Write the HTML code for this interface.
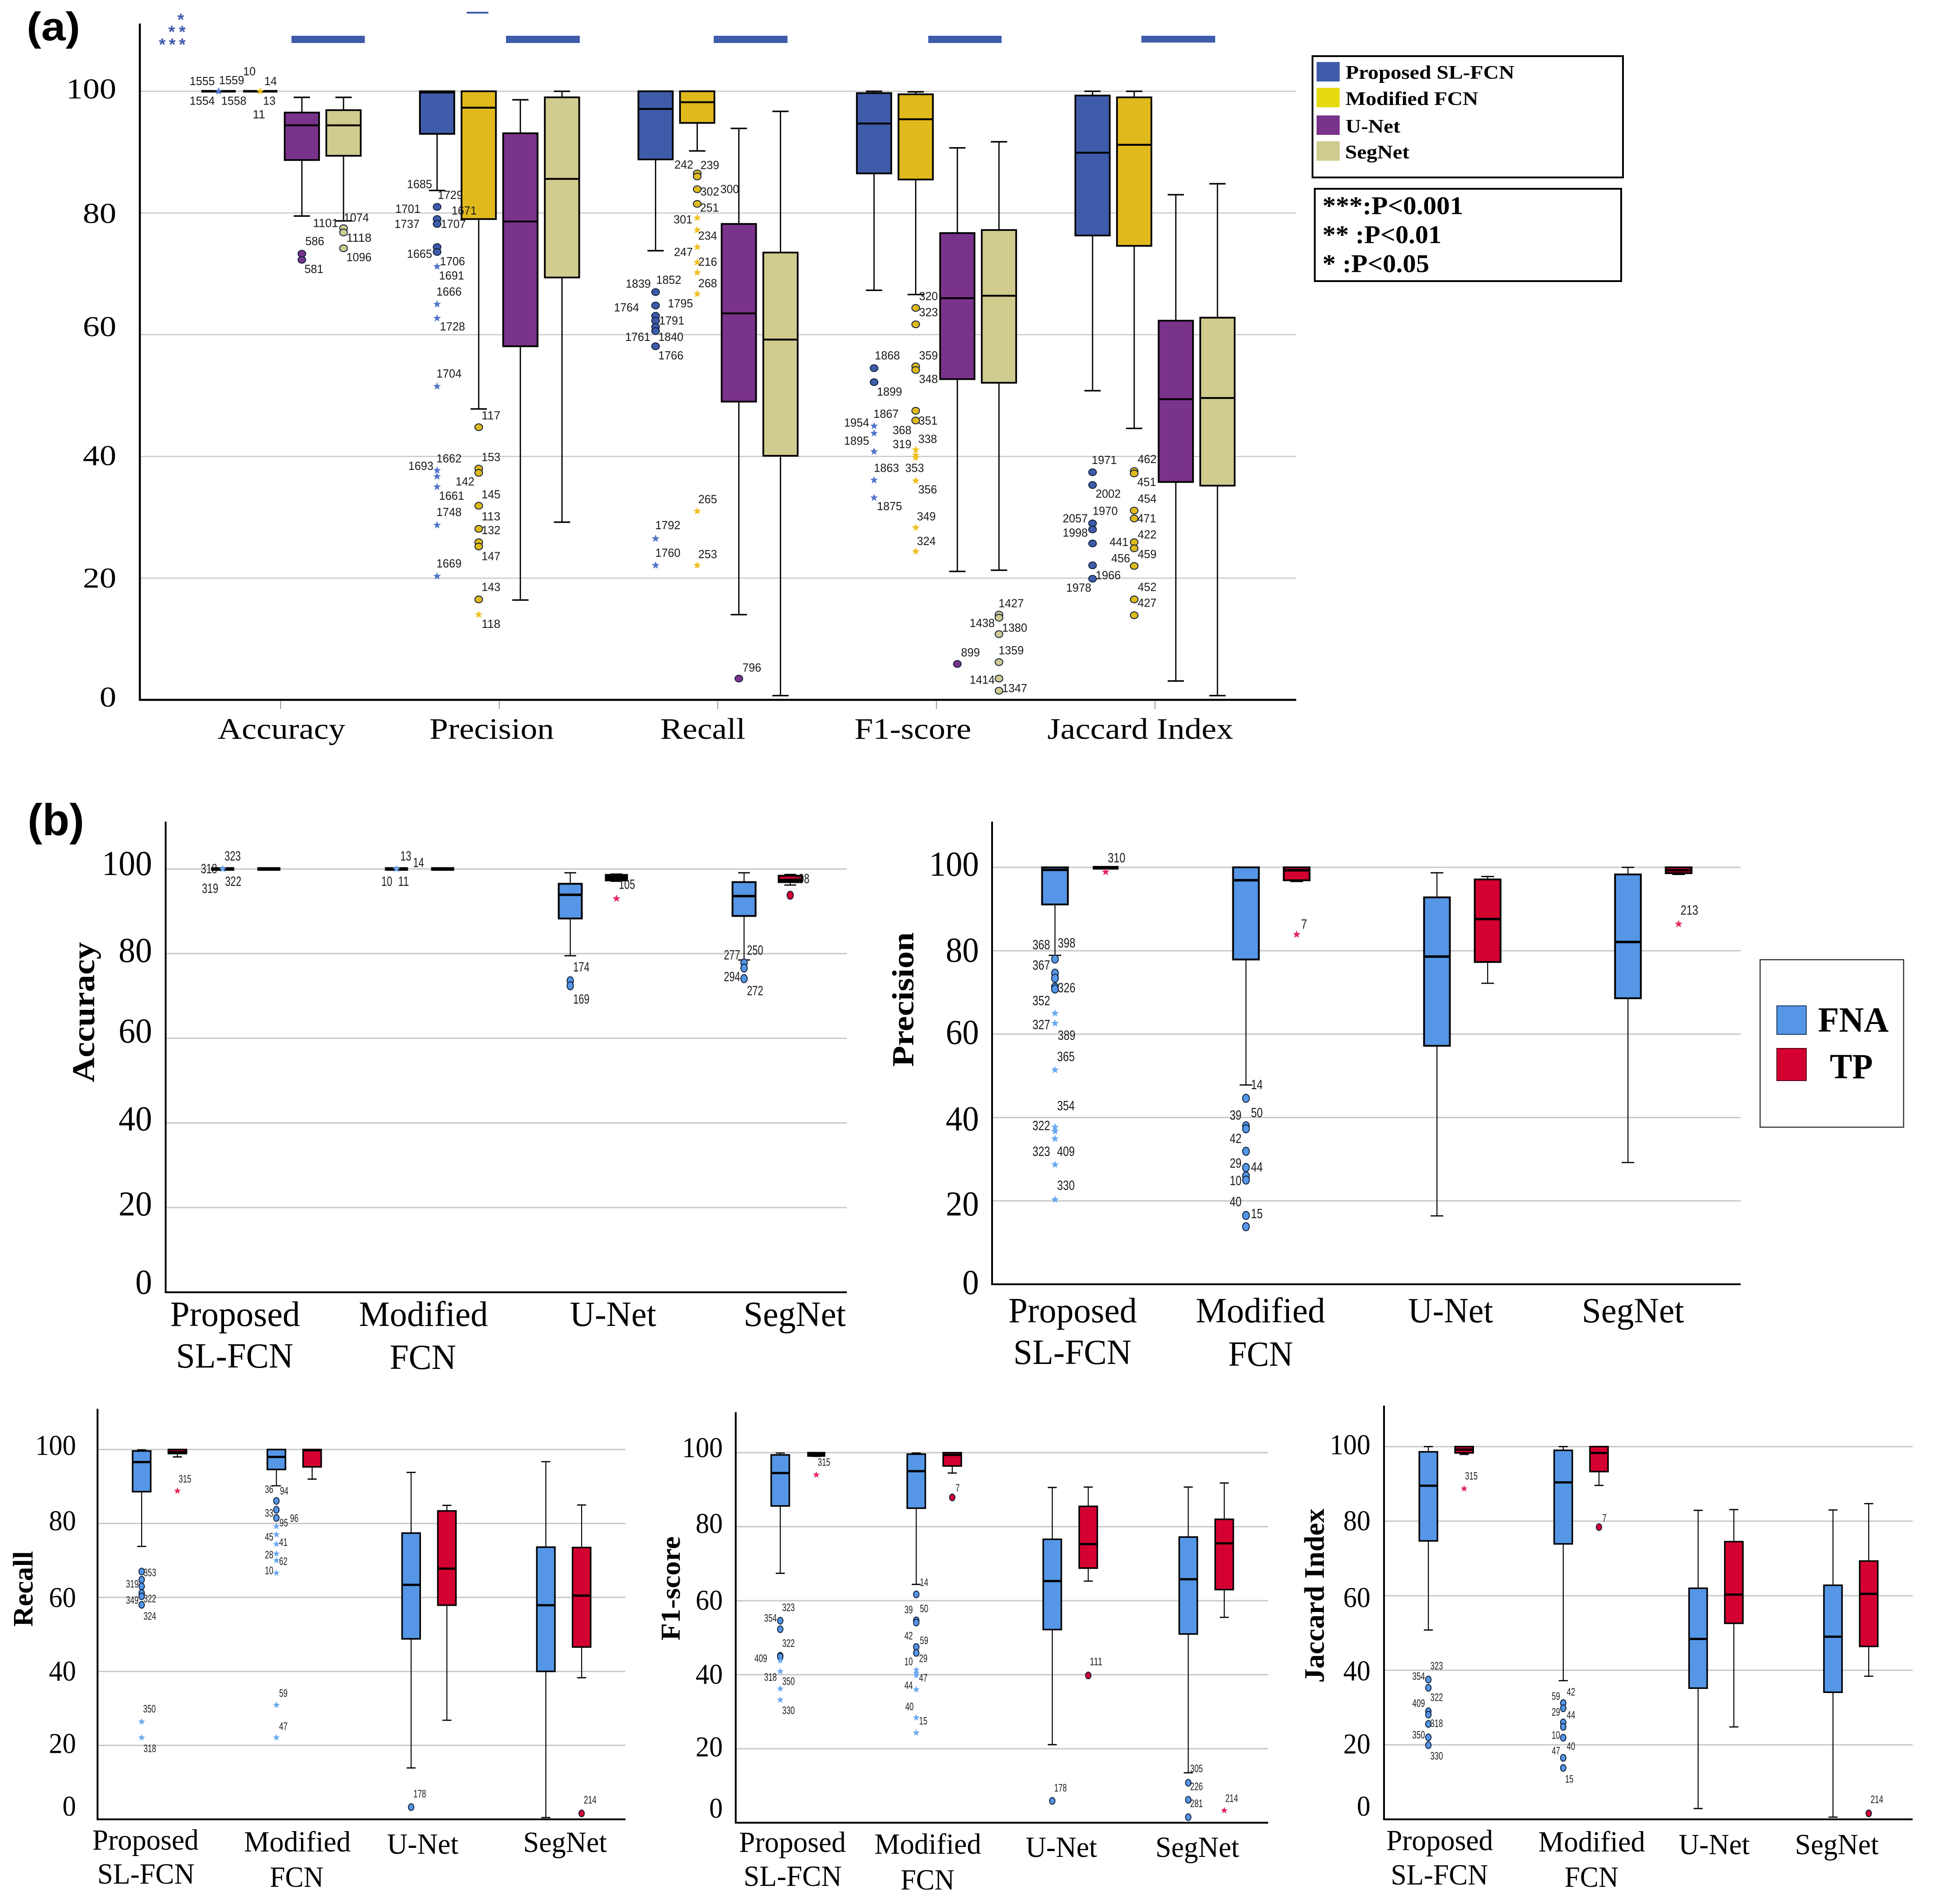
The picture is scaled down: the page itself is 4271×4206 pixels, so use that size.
<!DOCTYPE html>
<html lang="en">
<head>
<meta charset="utf-8">
<title>Segmentation metrics box plots</title>
<style>
html,body{margin:0;padding:0;background:#fff;}
svg{display:block;}
text{white-space:pre;}
</style>
</head>
<body>
<svg id="figure" xmlns="http://www.w3.org/2000/svg" width="4271" height="4206" viewBox="0 0 4271 4206">
<rect x="0" y="0" width="4271" height="4206" fill="#ffffff"/>
<g id="charts"></g>

<text x="59" y="89" font-family="Liberation Sans, sans-serif" font-weight="bold" font-size="88" textLength="118" lengthAdjust="spacingAndGlyphs">(a)</text>
<text x="61" y="1845" font-family="Liberation Sans, sans-serif" font-weight="bold" font-size="98" textLength="125" lengthAdjust="spacingAndGlyphs">(b)</text>

<g fill="#3f5cab" font-family="Liberation Sans, sans-serif" font-weight="bold" font-size="38">
<text x="392" y="56">*</text>
<text x="372" y="83" textLength="38">**</text>
<text x="351" y="111" textLength="59">***</text>
</g>

<g fill="#3f5cab">
<rect x="644" y="79" width="162" height="16"/>
<rect x="1118" y="79" width="163" height="16"/>
<rect x="1031" y="26" width="48" height="4"/>
<rect x="1577" y="79" width="163" height="16"/>
<rect x="2051" y="79" width="162" height="16"/>
<rect x="2522" y="79" width="163" height="15"/>
</g>

<g>
<rect x="2900" y="124" width="686" height="268" fill="#fff" stroke="#000" stroke-width="4"/>
<rect x="2909" y="137" width="51" height="43" fill="#3f5cab"/>
<rect x="2909" y="194" width="51" height="43" fill="#e5db0e"/>
<rect x="2909" y="255" width="51" height="43" fill="#7a338a"/>
<rect x="2909" y="312" width="51" height="43" fill="#d0cb8f"/>
<g font-family="Liberation Serif, serif" font-weight="bold" font-size="42" fill="#000">
<text x="2973" y="174" textLength="373" lengthAdjust="spacingAndGlyphs">Proposed SL-FCN</text>
<text x="2973" y="232" textLength="293" lengthAdjust="spacingAndGlyphs">Modified FCN</text>
<text x="2973" y="293" textLength="121" lengthAdjust="spacingAndGlyphs">U-Net</text>
<text x="2972" y="350" textLength="142" lengthAdjust="spacingAndGlyphs">SegNet</text>
</g>
</g>

<g>
<rect x="2905" y="417" width="677" height="204" fill="#fff" stroke="#000" stroke-width="4"/>
<g font-family="Liberation Serif, serif" font-weight="bold" font-size="56" fill="#000">
<text x="2922" y="473" textLength="311" lengthAdjust="spacingAndGlyphs">***:P&lt;0.001</text>
<text x="2922" y="537" textLength="263" lengthAdjust="spacingAndGlyphs">** :P&lt;0.01</text>
<text x="2922" y="601" textLength="236" lengthAdjust="spacingAndGlyphs">* :P&lt;0.05</text>
</g>
</g>

<g>
<rect x="3889" y="2120" width="317" height="370" fill="#fff" stroke="#333" stroke-width="2.5"/>
<rect x="3926" y="2222" width="65" height="63" fill="#5596e6" stroke="#1d3b66" stroke-width="2"/>
<rect x="3926" y="2316" width="65" height="71" fill="#d50032" stroke="#5d0018" stroke-width="2"/>
<g font-family="Liberation Serif, serif" font-weight="bold" font-size="78" fill="#000">
<text x="4017" y="2279" textLength="156" lengthAdjust="spacingAndGlyphs">FNA</text>
<text x="4043" y="2382" textLength="95" lengthAdjust="spacingAndGlyphs">TP</text>
</g>
</g>

<g font-family="Liberation Serif, serif" font-weight="bold" fill="#000" text-anchor="middle">
<text transform="translate(208,2236) rotate(-90)" font-size="70" textLength="310" lengthAdjust="spacingAndGlyphs">Accuracy</text>
<text transform="translate(2018,2208) rotate(-90)" font-size="68" textLength="297" lengthAdjust="spacingAndGlyphs">Precision</text>
<text transform="translate(72,3510) rotate(-90)" font-size="62" textLength="167" lengthAdjust="spacingAndGlyphs">Recall</text>
<text transform="translate(1502,3509) rotate(-90)" font-size="60" textLength="230" lengthAdjust="spacingAndGlyphs">F1-score</text>
<text transform="translate(2925,3525) rotate(-90)" font-size="62" textLength="385" lengthAdjust="spacingAndGlyphs">Jaccard Index</text>
</g>
</svg>

<script>
/* ---------- shared axis data ---------- */
const tickValues = [0, 20, 40, 60, 80, 100];
const metricNames = ["Accuracy", "Precision", "Recall", "F1-score", "Jaccard Index"];
const modelNames = ["Proposed SL-FCN", "Modified FCN", "U-Net", "SegNet"];
const sampleNames = ["FNA", "TP"];

/* ---------- panel (a): each row = one metric, [high, q3, median, q1, low] ---------- */
const aProposedStats = [
  [100, 100, 100, 100, 100],
  [100, 100, 99.8, 93, 83.7],
  [100, 100, 97.1, 88.8, 73.8],
  [100, 99.7, 94.7, 86.5, 67.3],
  [100, 99.3, 89.9, 76.3, 50.8]
];
const aModifiedStats = [
  [100, 100, 100, 100, 100],
  [100, 100, 97.3, 79, 47.8],
  [100, 100, 98.2, 94.8, 90.2],
  [99.9, 99.5, 95.4, 85.5, 66.6],
  [100, 99, 91.2, 74.6, 44.6]
];
const aUNetStats = [
  [99, 96.5, 94.4, 88.7, 79.5],
  [98.6, 93.1, 78.6, 58.1, 16.4],
  [93.9, 78.2, 63.5, 49, 14],
  [90.7, 76.7, 66, 52.7, 21.1],
  [83, 62.3, 49.4, 35.8, 3.1]
];
const aSegNetStats = [
  [99, 96.9, 94.4, 89.4, 78.7],
  [100, 99, 85.6, 69.4, 29.2],
  [96.7, 73.5, 59.2, 40.1, 0.7],
  [91.7, 77.2, 66.4, 52.1, 21.3],
  [84.8, 62.8, 49.6, 35.2, 0.7]
];
const aProposedCircles = [
  [],
  [81, 79, 78.2, 74.4, 73.6],
  [67, 64.8, 63.1, 62.3, 61.3, 60.6, 58.1],
  [54.5, 52.2],
  [37.4, 35.3, 29, 28, 25.7, 22.1, 19.9]
];
const aProposedStars = [
  [100],
  [71.2, 65, 62.7, 51.5, 37.7, 36.7, 35, 28.7, 20.3],
  [26.5, 22.1],
  [45, 43.8, 40.8, 36.1, 33.2],
  []
];
const aModifiedCircles = [
  [],
  [44.8, 38, 37.3, 31.9, 28.1, 25.9, 25.2, 16.5],
  [86.5, 86, 83.9, 81.5],
  [64.4, 61.7, 54.8, 54.2, 47.5, 45.9],
  [37.6, 37.2, 31.1, 29.8, 25.9, 24.9, 22, 16.5, 13.9]
];
const aModifiedStars = [
  [100],
  [14],
  [79.2, 77.2, 74.4, 71.9, 70.2, 66.7, 31, 22.1],
  [41.1, 40.2, 39.8, 36, 28.3, 24.4],
  []
];
const aUNetCircles = [[73.3, 72.3], [], [3.5], [5.9], []];
const aUNetStars = [[], [], [], [], []];
const aSegNetCircles = [[77.5, 76.8, 74.2], [], [], [14, 13.5, 10.8, 6.2, 3.5, 1.5], []];
const aSegNetStars = [[], [], [], [], []];

/* ---------- panel (b): each row = one model, [high, q3, median, q1, low] ---------- */
const bAccuracyFNA = [
  [100, 100, 100, 100, 100],
  [100, 100, 100, 100, 100],
  [99.1, 96.5, 93.9, 88.3, 79.5],
  [99.1, 96.9, 93.6, 88.9, 78.5]
];
const bAccuracyTP = [
  [100, 100, 100, 100, 100],
  [100, 100, 100, 100, 100],
  [98.8, 98.6, 97.9, 97.3, 97.1],
  [98.7, 98.4, 97.4, 96.9, 96.2]
];
const bAccuracyFNACircles = [[], [], [73.6, 72.4], [77.8, 76.6, 74.1]];
const bAccuracyFNAStars = [[100], [100], [], []];
const bAccuracyTPCircles = [[], [], [], [93.8]];
const bAccuracyTPStars = [[], [], [93], []];

const bPrecisionFNA = [
  [100, 100, 99.4, 91.1, 78.9],
  [100, 100, 96.9, 77.9, 47.8],
  [98.7, 92.8, 78.6, 57.2, 16.4],
  [100, 98.3, 82.1, 68.6, 29.2]
];
const bPrecisionTP = [
  [100, 100, 100, 99.8, 99.8],
  [100, 100, 99.3, 96.9, 96.6],
  [97.8, 97.1, 87.6, 77.3, 72.2],
  [100, 100, 99.3, 98.6, 98.3]
];
const bPrecisionFNACircles = [
  [78, 74.6, 73.4, 71.3, 70.8],
  [44.6, 38, 37.3, 31.9, 28, 26, 25, 16.5, 13.8],
  [],
  []
];
const bPrecisionFNAStars = [[65, 62.6, 51.4, 37.7, 36.7, 34.9, 28.7, 20.3], [], [], []];
const bPrecisionTPCircles = [[], [], [], []];
const bPrecisionTPStars = [[98.9], [83.9], [], [86.4]];

const bRecallFNA = [
  [99.9, 99.6, 96.6, 88.6, 73.8],
  [100, 100, 98, 94.6, 90.2],
  [93.8, 77.4, 63.4, 48.8, 13.9],
  [96.7, 73.6, 57.9, 40, 0.5]
];
const bRecallTP = [
  [100, 100, 99.3, 98.9, 98],
  [100, 100, 99.8, 95.3, 92],
  [84.9, 83.4, 67.8, 57.9, 26.8],
  [85, 73.5, 60.5, 46.6, 38.3]
];
const bRecallFNACircles = [[67, 64.8, 63, 61.2, 60.3, 58], [86.1, 83.7, 81.5], [3.3], []];
const bRecallFNAStars = [[26.4, 22.1], [79.2, 77, 74.4, 71.8, 70, 66.6, 30.9, 22.1], [], []];
const bRecallTPCircles = [[], [], [], [1.6]];
const bRecallTPStars = [[88.8], [], [], []];

const bF1FNA = [
  [99.9, 99.4, 94.5, 85.6, 67.4],
  [99.9, 99.6, 95, 85, 64.4],
  [90.6, 76.6, 65.3, 52.2, 21.1],
  [90.7, 77.2, 65.8, 51, 13.5]
];
const bF1TP = [
  [100, 100, 99.6, 99.1, 99],
  [100, 100, 99.4, 96.4, 94.5],
  [90.7, 85.5, 75.3, 68.8, 65.3],
  [91.8, 82, 75.5, 63, 55.5]
];
const bF1FNACircles = [
  [54.6, 52.3, 45.1, 44.9],
  [61.7, 54.7, 54.1, 47.5, 45.9],
  [5.9],
  [10.8, 6.2, 1.5]
];
const bF1FNAStars = [[43.8, 40.9, 36.2, 33.2], [41.3, 40.4, 39.8, 36, 28.4, 24.3], [], []];
const bF1TPCircles = [[], [87.9], [39.8], []];
const bF1TPStars = [[94], [], [], [3.3]];

const bJaccardFNA = [
  [100, 98.6, 89.5, 74.7, 50.8],
  [100, 99, 90.4, 73.9, 37.2],
  [82.9, 62, 48.4, 35.2, 2.9],
  [83, 62.8, 49, 34.1, 0.6]
];
const bJaccardTP = [
  [100, 100, 99.2, 98.3, 97.9],
  [100, 100, 98.3, 93.3, 89.6],
  [83.1, 74.5, 60.3, 52.6, 24.8],
  [84.7, 69.3, 60.5, 46.4, 38.4]
];
const bJaccardFNACircles = [
  [37.5, 35.3, 29, 28.1, 25.6, 22, 19.9],
  [31.2, 29.8, 26, 24.8, 21.9, 16.5, 13.8],
  [],
  []
];
const bJaccardFNAStars = [[], [], [], []];
const bJaccardTPCircles = [[], [78.4], [], [1.6]];
const bJaccardTPStars = [[88.7], [], [], []];

/* ---------- outlier case-number labels (printed text) ---------- */
const aIdsLeft = "1555 467 165|1559 535 163|10 576 145|14 625 165|1554 467 205|1558 540 205|13 622 205|11 598 233|1101 752 454|1074 823 443|586 727 491|1118 829 484|1096 829 524|581 725 548|1685 969 375|1729 1040 397|1701 942 425|1671 1072 429|1737 940 456|1707 1047 456|1665 969 517|1706 1045 532|1691 1043 561|1666 1037 594|1728 1045 665|1704 1037 761|117 1134 846|153 1134 931|1662 1037 934|1693 972 949|142 1074 981|1661 1043 1010|145 1134 1007|1748 1037 1043|113 1134 1052|132 1134 1080|147 1134 1133|1669 1037 1148|143 1134 1196|118 1134 1271|1839 1474 578|1764 1447 626|1761 1473 686";
const aIdsRight = "1792 79 1070|1760 79 1126|1852 81 570|1795 108 618|1791 88 653|1840 86 686|1766 86 724|242 116 335|239 176 336|302 176 390|300 222 385|251 175 423|301 114 447|234 171 480|247 115 513|216 171 533|268 171 577|265 171 1017|253 171 1129|796 273 1360|1868 586 724|359 681 724|320 681 603|323 681 636|348 681 772|1899 591 798|1867 583 843|351 680 857|1954 515 861|368 620 876|338 679 894|1895 515 898|319 620 905|1863 584 953|353 649 953|356 679 997|1875 591 1031|349 676 1052|324 676 1102|899 778 1329|1427 872 1229|1438 805 1269|1380 880 1279|1359 872 1325|1414 805 1385|1347 880 1402|1971 1087 937|462 1186 935|451 1185 982|2002 1096 1006|454 1186 1016|1970 1089 1041|2057 1020 1056|471 1185 1056|1998 1020 1085|422 1186 1089|441 1121 1104|459 1186 1129|456 1125 1137|1966 1096 1172|1978 1028 1197|452 1186 1196|427 1186 1228";
const bAccuracyIds = "323 403 163|318 362 196|322 404 228|319 364 246|13 703 163|14 725 180|10 670 228|11 699 228|105 1086 236|174 1007 448|169 1007 530|277 1268 417|250 1308 405|294 1268 473|272 1308 509|108 1388 221";
const bPrecisionIds = "310 375 168|368 265 391|398 302 386|367 265 443|326 302 501|352 265 534|327 265 596|389 302 623|365 301 678|354 301 804|322 265 855|323 265 921|409 301 921|330 301 1008|14 580 750|39 549 828|50 580 822|42 549 888|29 549 951|44 580 961|10 549 996|40 549 1050|15 580 1081|7 649 338|213 1212 302";
const bRecallIds = "315 442 260|353 358 548|319 316 583|322 358 628|349 316 633|324 358 682|350 357 967|318 358 1089|36 643 292|94 679 297|33 643 365|95 678 395|96 703 381|45 643 438|41 677 455|28 643 493|62 677 513|10 643 542|59 677 919|47 677 1021|178 1003 1228|214 1410 1247";
const bF1Ids = "315 455 208|323 370 655|354 327 688|322 370 765|409 304 812|318 327 870|350 370 882|330 370 972|14 694 578|39 657 662|50 694 659|42 657 742|59 694 757|10 657 822|29 692 812|47 692 872|44 657 895|40 659 960|15 692 1004|7 774 288|178 1020 1210|111 1105 822|305 1345 1151|226 1345 1206|281 1345 1258|214 1429 1242";
const bJaccardIds = "315 465 251|323 382 835|354 339 867|322 382 932|409 339 950|318 382 1012|350 339 1047|330 382 1112|42 703 915|59 667 928|29 667 977|44 703 986|10 667 1048|40 703 1082|47 667 1096|15 699 1183|7 783 380|214 1434 1246";

/* ---------- drawing ---------- */
const SVGNS = "http://www.w3.org/2000/svg";
const root = document.getElementById("charts");

function mk(tag, attrs, parent, content) {
  const el = document.createElementNS(SVGNS, tag);
  for (const k in attrs) el.setAttribute(k, attrs[k]);
  if (content !== undefined) el.textContent = content;
  parent.appendChild(el);
  return el;
}
function starPath(cx, cy, r) {
  let d = "";
  for (let i = 0; i < 10; i++) {
    const rad = i % 2 ? r * 0.42 : r;
    const a = -Math.PI / 2 + i * Math.PI / 5;
    d += (i ? "L" : "M") + (cx + rad * Math.cos(a)).toFixed(1) + " " + (cy + rad * Math.sin(a)).toFixed(1);
  }
  return d + "Z";
}
function slug(s) { return s.toLowerCase().replace(/[^a-z0-9]+/g, "-"); }

function drawChart(cfg, groups, seriesNames, stats, circles, stars, colors) {
  const chart = mk("g", {}, root);
  
  
  const y = v => cfg.y0 - (cfg.y0 - cfg.y100) * v / 100;
  const x = (g, s) => cfg.x0 + g * cfg.step + s * cfg.off;

  tickValues.forEach((t, i) => {
    if (t > 0) {
      const grid = mk("line", {x1: cfg.axisX, x2: cfg.axisRight, y1: y(t), y2: y(t), stroke: "#c8c8c8", "stroke-width": cfg.grid}, chart);
      
      
    }
    const label = mk("text", {x: cfg.tickEnd, y: y(t) + cfg.tickNudge[i] + cfg.tickFs * 0.33, "text-anchor": "end",
      "font-family": "Liberation Serif, serif", "font-size": cfg.tickFs, textLength: String(t).length * cfg.digitW,
      lengthAdjust: "spacingAndGlyphs", fill: "#000"}, chart, String(t));
    
    
  });

  seriesNames.forEach((sName, s) => {
    groups.forEach((gName, g) => {
      const cx = x(g, s);
      const st = stats[s][g];
      const hi = st[0], q3 = st[1], med = st[2], q1 = st[3], lo = st[4];
      const box = mk("g", {}, chart);
      
      
      const ws = cfg.whisker;
      if (hi > q3) {
        mk("line", {x1: cx, x2: cx, y1: y(hi), y2: y(q3), stroke: "#000", "stroke-width": ws}, box);
        mk("line", {x1: cx - cfg.capW / 2, x2: cx + cfg.capW / 2, y1: y(hi), y2: y(hi), stroke: "#000", "stroke-width": ws + 0.5}, box);
      }
      if (lo < q1) {
        mk("line", {x1: cx, x2: cx, y1: y(q1), y2: y(lo), stroke: "#000", "stroke-width": ws}, box);
        mk("line", {x1: cx - cfg.capW / 2, x2: cx + cfg.capW / 2, y1: y(lo), y2: y(lo), stroke: "#000", "stroke-width": ws + 0.5}, box);
      }
      const boxH = y(q1) - y(q3);
      if (boxH < cfg.blackBelow) {
        const ym = (y(q1) + y(q3)) / 2;
        const th = Math.max(cfg.flatH, boxH + cfg.boxStroke);
        mk("rect", {x: cx - cfg.boxW / 2, y: ym - th / 2, width: cfg.boxW, height: th, fill: "#000"}, box);
      } else {
        mk("rect", {x: cx - cfg.boxW / 2, y: y(q3), width: cfg.boxW, height: boxH, fill: colors[s], stroke: "#000", "stroke-width": cfg.boxStroke}, box);
        mk("line", {x1: cx - cfg.boxW / 2, x2: cx + cfg.boxW / 2, y1: y(med), y2: y(med), stroke: "#000", "stroke-width": cfg.median}, box);
      }

      circles[s][g].forEach(v => {
        const c = mk("ellipse", {cx: cx, cy: y(v), rx: cfg.rx, ry: cfg.ry, fill: colors[s], stroke: "#10203a", "stroke-width": 2}, chart);
        
        
      });
      stars[s][g].forEach(v => {
        const p = mk("path", {d: starPath(cx, y(v), cfg.star), fill: cfg.starColors[s]}, chart);
        
        
      });
    });
  });

  const ax = mk("path", {d: "M" + cfg.axisX + " " + cfg.axisTop + "V" + cfg.y0 + "H" + cfg.axisRight, fill: "none", stroke: "#000", "stroke-width": cfg.axisW}, chart);
  
  

  cfg.catLabels.forEach(c => {
    const t = mk("text", {x: c[1], y: c[3], "font-family": "Liberation Serif, serif", "font-size": cfg.catFs,
      textLength: c[2] - c[1], lengthAdjust: "spacingAndGlyphs", fill: "#000"}, chart, c[0]);
    
    
  });
  return chart;
}

function drawIds(parent, list, ox, oy, kx, ky, fs, cw) {
  list.split("|").forEach(item => {
    const p = item.split(" ");
    const t = mk("text", {x: ox + (+p[1]) / kx, y: oy + (+p[2]) / ky + fs * 0.35, "text-anchor": "middle",
      "font-family": "Liberation Sans, sans-serif", "font-size": fs, textLength: p[0].length * cw,
      lengthAdjust: "spacingAndGlyphs", fill: "#1a1a1a"}, parent, p[0]);
    
    
  });
}

const colorsA = ["#3f5cab", "#e0ba1c", "#7a338a", "#d0cb8f"];
const starsA = ["#4f74c8", "#efc020", "#7a338a", "#d0cb8f"];
const colorsB = ["#5596e6", "#d50032"];
const starsB = ["#6aa8f0", "#e2285c"];
const smallBase = {grid: 3, axisW: 4, whisker: 2.2, boxStroke: 3.4, median: 5, rx: 6, ry: 7.5, star: 8, starColors: starsB, catFs: 65, tickFs: 64, digitW: 30, blackBelow: 8, flatH: 8};

const chartA = drawChart({
  name: "panel-a", axisX: 309, axisTop: 52, axisRight: 2864, y100: 201.6, y0: 1546,
  x0: 483, step: 482.75, off: 92, boxW: 76, capW: 36, grid: 2.5, axisW: 4.5, whisker: 2.8, boxStroke: 3.8, median: 4.2,
  blackBelow: 1, flatH: 5.5,
  rx: 8.5, ry: 7.5, star: 9, starColors: starsA, tickEnd: 257, tickFs: 64, digitW: 37, tickNudge: [-6, 0, -2, -18, 1, -5],
  catFs: 66,
  catLabels: [["Accuracy", 481, 763, 1632], ["Precision", 949, 1224, 1632], ["Recall", 1459, 1647, 1632], ["F1-score", 1888, 2146, 1632], ["Jaccard Index", 2314, 2725, 1632]]
}, metricNames, modelNames,
  [aProposedStats, aModifiedStats, aUNetStats, aSegNetStats],
  [aProposedCircles, aModifiedCircles, aUNetCircles, aSegNetCircles],
  [aProposedStars, aModifiedStars, aUNetStars, aSegNetStars], colorsA);
drawIds(chartA, aIdsLeft, 0, 0, 1.0453, 0.9224, 26, 13.9);
drawIds(chartA, aIdsRight, 1400, 0, 1.0453, 0.9224, 26, 13.9);

const chartAcc = drawChart(Object.assign({}, smallBase, {
  name: "b-accuracy", axisX: 366, axisTop: 1815, axisRight: 1871, y100: 1919.6, y0: 2854.6,
  x0: 492, step: 384, off: 102, boxW: 51, capW: 26, boxStroke: 4, median: 5.5, rx: 7, ry: 9, star: 9, blackBelow: 13,
  tickEnd: 336, tickFs: 77, digitW: 37, tickNudge: [-22, -8, -9, -16, -7, -12], catFs: 78,
  catLabels: [["Proposed", 376, 663, 2929], ["SL-FCN", 389, 648, 3021], ["Modified", 793, 1078, 2929], ["FCN", 861, 1008, 3024], ["U-Net", 1259, 1450, 2929], ["SegNet", 1643, 1869, 2929]]
}), modelNames, sampleNames, [bAccuracyFNA, bAccuracyTP], [bAccuracyFNACircles, bAccuracyTPCircles], [bAccuracyFNAStars, bAccuracyTPStars], colorsB);
drawIds(chartAcc, bAccuracyIds, 0, 1750, 0.784, 1.1615, 30, 12);

const chartPrec = drawChart(Object.assign({}, smallBase, {
  name: "b-precision", axisX: 2192, axisTop: 1815, axisRight: 3846, y100: 1916, y0: 2837,
  x0: 2331, step: 422, off: 112, boxW: 57, capW: 28, boxStroke: 4, median: 5.5, rx: 7.5, ry: 9, star: 9,
  tickEnd: 2163, tickFs: 77, digitW: 36.7, tickNudge: [-4, 7, 3, -4, -1, -7], catFs: 78,
  catLabels: [["Proposed", 2228, 2512, 2921], ["SL-FCN", 2239, 2500, 3013], ["Modified", 2642, 2928, 2921], ["FCN", 2714, 2857, 3017], ["U-Net", 3111, 3299, 2921], ["SegNet", 3495, 3721, 2921]]
}), modelNames, sampleNames, [bPrecisionFNA, bPrecisionTP], [bPrecisionFNACircles, bPrecisionTPCircles], [bPrecisionFNAStars, bPrecisionTPStars], colorsB);
drawIds(chartPrec, bPrecisionIds, 1900, 1750, 0.6613, 1.1615, 30, 13);

const chartRec = drawChart(Object.assign({}, smallBase, {
  name: "b-recall", axisX: 215.5, axisTop: 3112, axisRight: 1382, y100: 3202, y0: 4019,
  x0: 313, step: 297.7, off: 79, boxW: 40, capW: 20,
  tickEnd: 168, tickNudge: [-29, -4, -1, 0, -6, -9],
  catLabels: [["Proposed", 204, 439, 4086], ["SL-FCN", 215, 430, 4161], ["Modified", 539, 775, 4090], ["FCN", 596, 715, 4168], ["U-Net", 855, 1013, 4095], ["SegNet", 1156, 1341, 4091]]
}), modelNames, sampleNames, [bRecallFNA, bRecallTP], [bRecallFNACircles, bRecallTPCircles], [bRecallFNAStars, bRecallTPStars], colorsB);
drawIds(chartRec, bRecallIds, 0, 3080, 1.0814, 1.3925, 24, 9.3);

const chartF1 = drawChart(Object.assign({}, smallBase, {
  name: "b-f1-score", axisX: 1625.6, axisTop: 3119.5, axisRight: 2802, y100: 3209, y0: 4026.5,
  x0: 1724, step: 300.5, off: 79.5, boxW: 40, capW: 20,
  tickEnd: 1597, tickNudge: [-32, -4, -1, -1, -7, -11],
  catLabels: [["Proposed", 1633, 1869, 4091], ["SL-FCN", 1643, 1860, 4166], ["Modified", 1932, 2168, 4095], ["FCN", 1990, 2109, 4174], ["U-Net", 2266, 2424, 4102], ["SegNet", 2553, 2738, 4102]]
}), modelNames, sampleNames, [bF1FNA, bF1TP], [bF1FNACircles, bF1TPCircles], [bF1FNAStars, bF1TPStars], colorsB);
drawIds(chartF1, bF1Ids, 1400, 3080, 1.0814, 1.3925, 24, 9.3);

const chartJac = drawChart(Object.assign({}, smallBase, {
  name: "b-jaccard-index", axisX: 3058, axisTop: 3105, axisRight: 4226, y100: 3195.6, y0: 4019,
  x0: 3156, step: 298, off: 79, boxW: 40, capW: 20,
  tickEnd: 3028, tickNudge: [-29, -2, 1, 4, -1, -4],
  catLabels: [["Proposed", 3063, 3299, 4087], ["SL-FCN", 3073, 3288, 4163], ["Modified", 3399, 3635, 4090], ["FCN", 3457, 3576, 4168], ["U-Net", 3709, 3866, 4096], ["SegNet", 3966, 4151, 4096]]
}), modelNames, sampleNames, [bJaccardFNA, bJaccardTP], [bJaccardFNACircles, bJaccardTPCircles], [bJaccardFNAStars, bJaccardTPStars], colorsB);
drawIds(chartJac, bJaccardIds, 2821, 3080, 1.0814, 1.3925, 24, 9.3);

/* x-axis tick marks for panel (a), one per metric */
metricNames.forEach((m, i) => {
  const tx = 620 + i * 483;
  const tick = mk("line", {x1: tx, x2: tx, y1: 1548, y2: 1566, stroke: "#999", "stroke-width": 2}, chartA);
  
  
});
</script>
</body>
</html>
